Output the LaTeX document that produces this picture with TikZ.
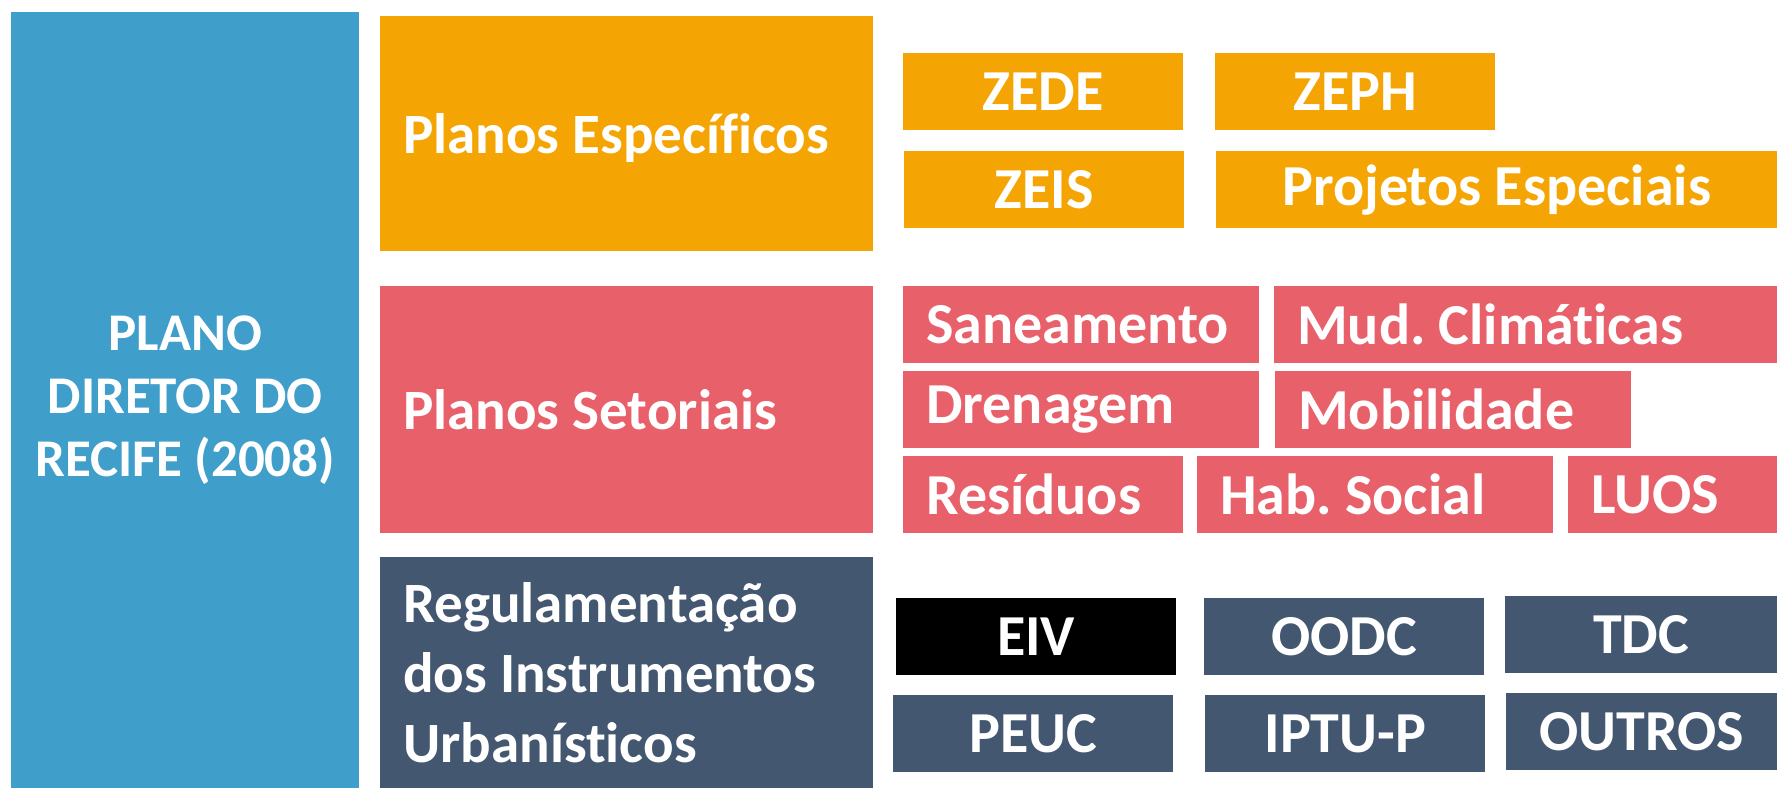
\documentclass[tikz,border=0pt]{standalone}
\usepackage{fontspec}
\setmainfont{Carlito}[Ligatures=CommonOff]
\usetikzlibrary{positioning}
\definecolor{PlanoBlue}{RGB}{64, 158, 203}
\definecolor{Especifico}{RGB}{245, 165, 3}
\definecolor{Setorial}{RGB}{232, 96, 106}
\definecolor{Instrumento}{RGB}{67, 88, 112}
\frenchspacing

\begin{document}
\begin{tikzpicture}[x=1pt, y=-1pt,
    cell/.style={anchor=north west, inner sep=0pt, text=white, minimum height=77pt,
        font=\bfseries\fontsize{58}{66}\selectfont},
    leftcell/.style={cell, inner xsep=23pt, align=flush left},
    bigcell/.style={anchor=north west, inner xsep=23pt, inner ysep=0pt, text=white, align=flush left,
        minimum width=493pt, text width=447pt}]
    \useasboundingbox (0,0) rectangle (1777,788);

    % Plano Diretor
    \node[anchor=north west, fill=PlanoBlue, inner sep=0pt, minimum width=348pt, minimum height=776pt,
        text=white, align=center, font=\bfseries\fontsize{53}{63}\selectfont] (plano) at (11,12)
        {PLANO\\DIRETOR DO\\RECIFE (2008)};

    % Planos Especificos
    \node[bigcell, fill=Especifico, minimum height=235pt, text height=52pt, text depth=12pt,
        font=\bfseries\fontsize{57}{66}\selectfont] (especificos) at (380,16) {Planos Específicos};
    \node[cell, fill=Especifico, minimum width=280pt] (zede) at (903,53) {ZEDE};
    \node[cell, fill=Especifico, minimum width=280pt] (zeph) at (1215,53) {ZEPH};
    \node[cell, fill=Especifico, minimum width=280pt] (zeis) at (904,151) {ZEIS};
    \node[cell, fill=Especifico, minimum width=561pt] (projetos) at (1216,151) {Projetos Especiais};

    % Planos Setoriais
    \node[bigcell, fill=Setorial, minimum height=247pt,
        font=\bfseries\fontsize{57}{66}\selectfont] (setoriais) at (380,286) {Planos Setoriais};
    \node[leftcell, fill=Setorial, text width=310pt] (saneamento) at (903,286) {Saneamento};
    \node[leftcell, fill=Setorial, text width=457pt] (clima) at (1274,286) {Mud. Climáticas};
    \node[leftcell, fill=Setorial, text width=310pt] (drenagem) at (903,371) {Drenagem};
    \node[leftcell, fill=Setorial, text width=310pt] (mobilidade) at (1275,371) {Mobilidade};
    \node[leftcell, fill=Setorial, text width=234pt] (residuos) at (903,456) {Resíduos};
    \node[leftcell, fill=Setorial, text width=310pt] (habsocial) at (1197,456) {Hab. Social};
    \node[leftcell, fill=Setorial, text width=163pt] (luos) at (1568,456) {LUOS};

    % Regulamentacao dos instrumentos
    \node[bigcell, fill=Instrumento, minimum height=231pt,
        font=\bfseries\fontsize{57}{70}\selectfont] (regulamentacao) at (380,557)
        {Regulamentação\\dos Instrumentos\\Urbanísticos};
    \node[cell, fill=black, minimum width=280pt] (eiv) at (896,598) {EIV};
    \node[cell, fill=Instrumento, minimum width=280pt] (oodc) at (1204,598) {OODC};
    \node[cell, fill=Instrumento, minimum width=272pt] (tdc) at (1505,596) {TDC};
    \node[cell, fill=Instrumento, minimum width=280pt] (peuc) at (893,695) {PEUC};
    \node[cell, fill=Instrumento, minimum width=280pt] (iptu) at (1205,695) {IPTU-P};
    \node[cell, fill=Instrumento, minimum width=271pt] (outros) at (1506,693) {OUTROS};
\end{tikzpicture}
\end{document}
